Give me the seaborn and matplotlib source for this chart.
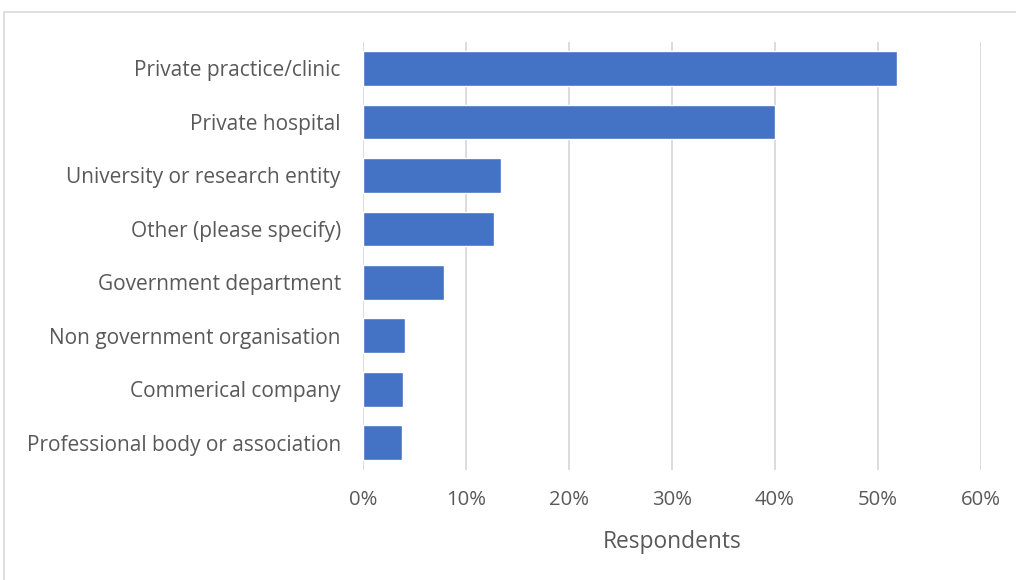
import matplotlib
matplotlib.use("Agg")
import matplotlib.pyplot as plt
import seaborn as sns
import pandas as pd
from matplotlib.ticker import PercentFormatter
from matplotlib.patches import Rectangle

categories = [
    "Private practice/clinic",
    "Private hospital",
    "University or research entity",
    "Other (please specify)",
    "Government department",
    "Non government organisation",
    "Commerical company",
    "Professional body or association",
]
shares = [51.8, 40.0, 13.35, 12.7, 7.85, 4.05, 3.9, 3.8]
x_ticks = [0, 10, 20, 30, 40, 50, 60]

df = pd.DataFrame({"category": categories, "share": shares})

sns.set_theme(style="white")
plt.rcParams["font.family"] = ["Open Sans", "DejaVu Sans"]

fig = plt.figure(figsize=(10.16, 5.8), dpi=100)
ax = fig.add_axes([0.3573, 0.1905, 0.6083, 0.7375])

sns.barplot(data=df, x="share", y="category", color="#4472C4",
            saturation=1, width=0.65, ax=ax, zorder=3)

ax.set_xlim(0, 60)
ax.set_xticks(x_ticks)
ax.xaxis.set_major_formatter(PercentFormatter(decimals=0))
ax.grid(axis="x", color="#D9D9D9", linewidth=1.3, zorder=0)
ax.grid(axis="y", visible=False)
for s in ax.spines.values():
    s.set_visible(False)

ax.tick_params(axis="x", length=0, pad=15, labelsize=14.6, labelcolor="#595959")
ax.tick_params(axis="y", length=0, pad=16, labelsize=15, labelcolor="#595959")
ax.set_ylabel("")
ax.set_xlabel("Respondents", fontsize=16.4, color="#595959", labelpad=14)

# chart frame
fig.patches.append(Rectangle((4 / 1016, -0.05), 1.1, 1 - 12 / 580 + 0.05,
                             transform=fig.transFigure, fill=False,
                             edgecolor="#D9D9D9", linewidth=1.2))

fig.savefig("out.png", dpi=100, facecolor="white")
